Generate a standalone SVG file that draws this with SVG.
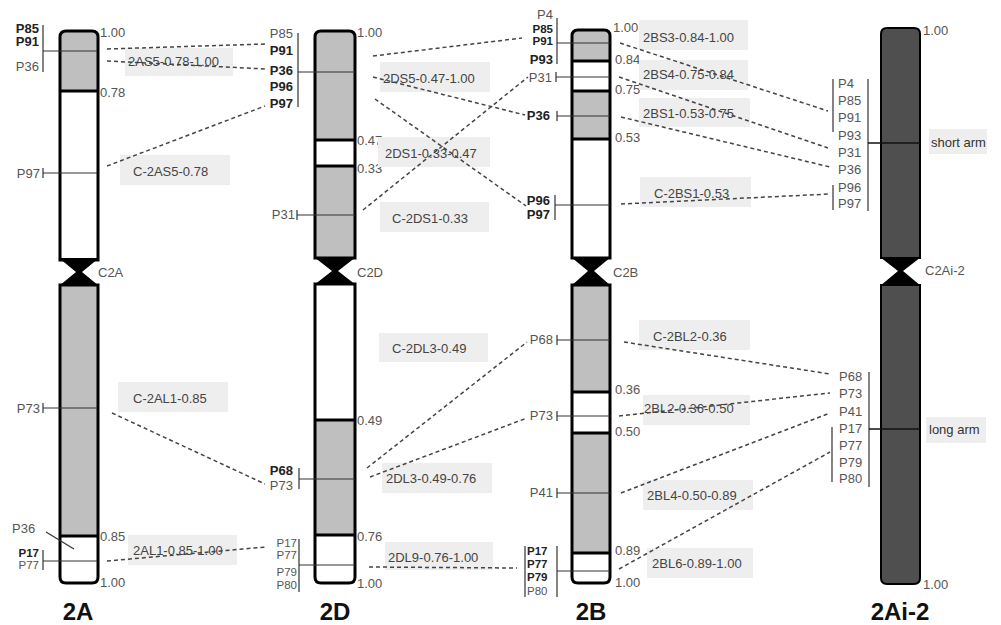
<svg xmlns="http://www.w3.org/2000/svg" width="1001" height="625" viewBox="0 0 1001 625">
<style>
text{font-family:"Liberation Sans",Arial,sans-serif;font-size:13px;fill:#555}
.b{font-weight:bold;fill:#222}
.e{text-anchor:end}
.s{font-size:11.5px}
.ttl{font-size:24px;font-weight:bold;fill:#111;text-anchor:middle}
.out{fill:none;stroke:#000;stroke-width:3}
.g{fill:#bfbfbf}
.w{fill:#fff}
.dk{fill:#4f4f4f}
.bd{stroke:#000;stroke-width:3}
.cen{fill:#000}
.mk{stroke:#333;stroke-width:1.2;fill:none}
.box{fill:#eeeeee}
.lt{fill:#444}
.arm{fill:#333}
.dash{stroke:#444;stroke-width:1.5;stroke-dasharray:4 3;fill:none}
</style>
<defs>
<clipPath id="cA1"><path d="M60,260 V37 Q60,31 66,31 H92 Q98,31 98,37 V260 Z"/></clipPath>
<clipPath id="cA2"><path d="M60,285 V577 Q60,583 66,583 H92 Q98,583 98,577 V285 Z"/></clipPath>
<clipPath id="cD1"><path d="M315,258 V37 Q315,31 321,31 H349 Q355,31 355,37 V258 Z"/></clipPath>
<clipPath id="cD2"><path d="M315,284 V577 Q315,583 321,583 H349 Q355,583 355,577 V284 Z"/></clipPath>
<clipPath id="cB1"><path d="M572,258 V36 Q572,30 578,30 H604 Q610,30 610,36 V258 Z"/></clipPath>
<clipPath id="cB2"><path d="M572,285 V577 Q572,583 578,583 H604 Q610,583 610,577 V285 Z"/></clipPath>
</defs>
<rect width="1001" height="625" fill="#fff"/>

<g id="chr-2A">
<g clip-path="url(#cA1)"><rect x="58" y="29" width="42" height="233" class="w"/><rect x="58" y="29" width="42" height="62" class="g"/></g>
<g clip-path="url(#cA2)"><rect x="58" y="283" width="42" height="302" class="g"/><rect x="58" y="536" width="42" height="49" class="w"/></g>
<line x1="60" y1="91" x2="98" y2="91" class="bd"/>
<line x1="60" y1="536" x2="98" y2="536" class="bd"/>
<polygon points="59,258 99,258 82,272 99,286 59,286 76,272" class="cen"/>
<path d="M60,260 V37 Q60,31 66,31 H92 Q98,31 98,37 V260 Z" class="out"/>
<path d="M60,285 V577 Q60,583 66,583 H92 Q98,583 98,577 V285 Z" class="out"/>
<text x="100" y="37">1.00</text>
<text x="100" y="97">0.78</text>
<text x="98" y="277">C2A</text>
<text x="100" y="541">0.85</text>
<text x="100" y="587">1.00</text>
<text x="39" y="33" class="b e">P85</text>
<text x="39" y="46" class="b e">P91</text>
<text x="39" y="71" class="e">P36</text>
<path d="M43,25 V72 M43,51 H97" class="mk"/>
<text x="40" y="178" class="e">P97</text>
<path d="M43,168 V178 M43,173 H97" class="mk"/>
<text x="40" y="413" class="e">P73</text>
<path d="M43,403 V413 M43,408 H97" class="mk"/>
<text x="12" y="533">P36</text>
<path d="M46,532 L74,549" class="mk"/>
<text x="39" y="557" class="b e s">P17</text>
<text x="39" y="569" class="e s">P77</text>
<path d="M43,550 V570 M43,561 H97" class="mk"/>
<text x="78" y="620" class="ttl">2A</text>
</g>

<g id="chr-2D">
<g clip-path="url(#cD1)"><rect x="313" y="29" width="44" height="231" class="g"/><rect x="313" y="140" width="44" height="26" class="w"/></g>
<g clip-path="url(#cD2)"><rect x="313" y="282" width="44" height="303" class="w"/><rect x="313" y="420" width="44" height="115" class="g"/></g>
<line x1="315" y1="140" x2="355" y2="140" class="bd"/>
<line x1="315" y1="166" x2="355" y2="166" class="bd"/>
<line x1="315" y1="420" x2="355" y2="420" class="bd"/>
<line x1="315" y1="535" x2="355" y2="535" class="bd"/>
<polygon points="314,257 356,257 338,271 356,285 314,285 332,271" class="cen"/>
<path d="M315,258 V37 Q315,31 321,31 H349 Q355,31 355,37 V258 Z" class="out"/>
<path d="M315,284 V577 Q315,583 321,583 H349 Q355,583 355,577 V284 Z" class="out"/>
<text x="357" y="37">1.00</text>
<text x="357" y="145">0.47</text>
<text x="357" y="173">0.33</text>
<text x="357" y="277">C2D</text>
<text x="357" y="425">0.49</text>
<text x="357" y="541">0.76</text>
<text x="357" y="588">1.00</text>
<text x="293" y="38" class="e">P85</text>
<text x="293" y="55" class="b e">P91</text>
<text x="293" y="75" class="b e">P36</text>
<text x="293" y="91" class="b e">P96</text>
<text x="293" y="108" class="b e">P97</text>
<path d="M298,33 V107 M298,72 H355" class="mk"/>
<text x="295" y="219" class="e">P31</text>
<path d="M297,210 V220 M297,215 H355" class="mk"/>
<text x="293" y="475" class="b e">P68</text>
<text x="293" y="490" class="e">P73</text>
<path d="M299,468 V489 M299,479 H355" class="mk"/>
<text x="297" y="547" class="e s">P17</text>
<text x="297" y="559" class="e s">P77</text>
<text x="297" y="576" class="e s">P79</text>
<text x="297" y="589" class="e s">P80</text>
<path d="M299,539 V592 M299,565 H355" class="mk"/>
<text x="335" y="620" class="ttl">2D</text>
</g>

<g id="chr-2B">
<g clip-path="url(#cB1)"><rect x="570" y="28" width="42" height="232" class="w"/><rect x="570" y="28" width="42" height="33" class="g"/><rect x="570" y="91" width="42" height="48" class="g"/></g>
<g clip-path="url(#cB2)"><rect x="570" y="283" width="42" height="302" class="g"/><rect x="570" y="392" width="42" height="41" class="w"/><rect x="570" y="553" width="42" height="32" class="w"/></g>
<line x1="572" y1="61" x2="610" y2="61" class="bd"/>
<line x1="572" y1="91" x2="610" y2="91" class="bd"/>
<line x1="572" y1="139" x2="610" y2="139" class="bd"/>
<line x1="572" y1="392" x2="610" y2="392" class="bd"/>
<line x1="572" y1="433" x2="610" y2="433" class="bd"/>
<line x1="572" y1="553" x2="610" y2="553" class="bd"/>
<polygon points="571,257 611,257 594,271 611,286 571,286 588,271" class="cen"/>
<path d="M572,258 V36 Q572,30 578,30 H604 Q610,30 610,36 V258 Z" class="out"/>
<path d="M572,285 V577 Q572,583 578,583 H604 Q610,583 610,577 V285 Z" class="out"/>
<text x="613" y="32">1.00</text>
<text x="615" y="64">0.84</text>
<text x="615" y="94">0.75</text>
<text x="615" y="142">0.53</text>
<text x="613" y="277">C2B</text>
<text x="615" y="394">0.36</text>
<text x="615" y="436">0.50</text>
<text x="615" y="555">0.89</text>
<text x="615" y="587">1.00</text>
<text x="553" y="19" class="e">P4</text>
<text x="553" y="33" class="b e s">P85</text>
<text x="553" y="45" class="b e s">P91</text>
<text x="553" y="64" class="b e">P93</text>
<path d="M557,18 V64 M557,43 H610" class="mk"/>
<text x="552" y="82" class="e">P31</text>
<path d="M556,72 V82 M556,77 H610" class="mk"/>
<text x="550" y="120" class="b e">P36</text>
<path d="M557,111 V121 M557,116 H610" class="mk"/>
<text x="550" y="205" class="b e">P96</text>
<text x="550" y="219" class="b e">P97</text>
<path d="M555,195 V220 M555,205 H610" class="mk"/>
<text x="553" y="344" class="e">P68</text>
<path d="M557,335 V345 M557,340 H610" class="mk"/>
<text x="553" y="420" class="e">P73</text>
<path d="M557,411 V421 M557,416 H610" class="mk"/>
<text x="553" y="497" class="e">P41</text>
<path d="M557,488 V498 M557,493 H610" class="mk"/>
<text x="527" y="555" class="b s">P17</text>
<text x="527" y="568" class="b s">P77</text>
<text x="527" y="581" class="b s">P79</text>
<text x="527" y="595" class="s">P80</text>
<path d="M525,546 V597 M557,546 V597 M557,571 H610" class="mk"/>
<text x="591" y="620" class="ttl">2B</text>
</g>

<g id="chr-2Ai-2">
<path d="M881,258 V34 Q881,28 887,28 H914 Q920,28 920,34 V258 Z" class="dk" stroke="#000" stroke-width="2"/>
<path d="M881,285 V578 Q881,584 887,584 H914 Q920,584 920,578 V285 Z" class="dk" stroke="#000" stroke-width="2"/>
<polygon points="880,257 921,257 903,271 921,286 880,286 898,271" class="cen"/>
<text x="923" y="35">1.00</text>
<text x="925" y="275">C2Ai-2</text>
<text x="923" y="589">1.00</text>
<text x="838" y="88">P4</text>
<text x="838" y="105">P85</text>
<text x="838" y="122">P91</text>
<text x="838" y="140">P93</text>
<text x="838" y="157">P31</text>
<text x="838" y="174">P36</text>
<text x="838" y="192">P96</text>
<text x="838" y="208">P97</text>
<path d="M833,79 V132 M833,185 V210 M868,79 V211" class="mk"/>
<line x1="868" y1="143" x2="920" y2="143" stroke="#111" stroke-width="1.3"/>
<rect x="929" y="129" width="58" height="25" class="box"/>
<text x="931" y="147" class="arm">short arm</text>
<text x="839" y="381">P68</text>
<text x="839" y="398">P73</text>
<text x="839" y="416">P41</text>
<text x="839" y="433">P17</text>
<text x="839" y="450">P77</text>
<text x="839" y="467">P79</text>
<text x="839" y="483">P80</text>
<path d="M869,372 V487 M832,427 V482" class="mk"/>
<line x1="869" y1="429" x2="920" y2="429" stroke="#111" stroke-width="1.3"/>
<rect x="926" y="417" width="60" height="26" class="box"/>
<text x="929" y="434" class="arm">long arm</text>
<text x="900" y="620" class="ttl">2Ai-2</text>
</g>

<g id="labels">
<rect x="125" y="48" width="108" height="28" class="box"/><text x="128" y="66" class="lt">2AS5-0.78-1.00</text>
<rect x="120" y="155" width="110" height="30" class="box"/><text x="133" y="176" class="lt">C-2AS5-0.78</text>
<rect x="118" y="382" width="110" height="30" class="box"/><text x="133" y="403" class="lt">C-2AL1-0.85</text>
<rect x="128" y="535" width="109" height="30" class="box"/><text x="133" y="555" class="lt">2AL1-0.85-1.00</text>
<rect x="380" y="62" width="110" height="30" class="box"/><text x="383" y="83" class="lt">2DS5-0.47-1.00</text>
<rect x="378" y="137" width="112" height="30" class="box"/><text x="385" y="158" class="lt">2DS1-0.33-0.47</text>
<rect x="380" y="202" width="109" height="30" class="box"/><text x="392" y="223" class="lt">C-2DS1-0.33</text>
<rect x="379" y="333" width="109" height="29" class="box"/><text x="392" y="353" class="lt">C-2DL3-0.49</text>
<rect x="382" y="463" width="110" height="30" class="box"/><text x="386" y="483" class="lt">2DL3-0.49-0.76</text>
<rect x="385" y="542" width="108" height="28" class="box"/><text x="388" y="562" class="lt">2DL9-0.76-1.00</text>
<rect x="639" y="20" width="109" height="30" class="box"/><text x="643" y="42" class="lt">2BS3-0.84-1.00</text>
<rect x="639" y="60" width="109" height="30" class="box"/><text x="643" y="79" class="lt">2BS4-0.75-0.84</text>
<rect x="639" y="98" width="111" height="29" class="box"/><text x="643" y="118" class="lt">2BS1-0.53-0.75</text>
<rect x="640" y="177" width="111" height="30" class="box"/><text x="654" y="198" class="lt">C-2BS1-0.53</text>
<rect x="639" y="320" width="111" height="30" class="box"/><text x="653" y="341" class="lt">C-2BL2-0.36</text>
<rect x="643" y="395" width="107" height="30" class="box"/><text x="644" y="413" class="lt">2BL2-0.36-0.50</text>
<rect x="643" y="480" width="110" height="30" class="box"/><text x="647" y="500" class="lt">2BL4-0.50-0.89</text>
<rect x="647" y="548" width="106" height="30" class="box"/><text x="652" y="568" class="lt">2BL6-0.89-1.00</text>
</g>

<g id="connectors">
<line x1="107" y1="49" x2="265" y2="44" class="dash"/>
<line x1="107" y1="61" x2="266" y2="69" class="dash"/>
<line x1="107" y1="166" x2="265" y2="106" class="dash"/>
<line x1="112" y1="413" x2="265" y2="484" class="dash"/>
<line x1="107" y1="561" x2="266" y2="547" class="dash"/>
<line x1="373" y1="56" x2="522" y2="38" class="dash"/>
<line x1="373" y1="77" x2="525" y2="115" class="dash"/>
<line x1="375" y1="99" x2="526" y2="206" class="dash"/>
<line x1="363" y1="210" x2="528" y2="77" class="dash"/>
<line x1="367" y1="468" x2="527" y2="342" class="dash"/>
<line x1="370" y1="477" x2="527" y2="418" class="dash"/>
<line x1="369" y1="567" x2="517" y2="568" class="dash"/>
<line x1="620" y1="43" x2="828" y2="111" class="dash"/>
<line x1="619" y1="77" x2="828" y2="148" class="dash"/>
<line x1="621" y1="117" x2="830" y2="167" class="dash"/>
<line x1="621" y1="204" x2="830" y2="194" class="dash"/>
<line x1="624" y1="342" x2="830" y2="374" class="dash"/>
<line x1="619" y1="416" x2="830" y2="393" class="dash"/>
<line x1="621" y1="493" x2="830" y2="413" class="dash"/>
<line x1="619" y1="569" x2="830" y2="452" class="dash"/>
</g>
</svg>
